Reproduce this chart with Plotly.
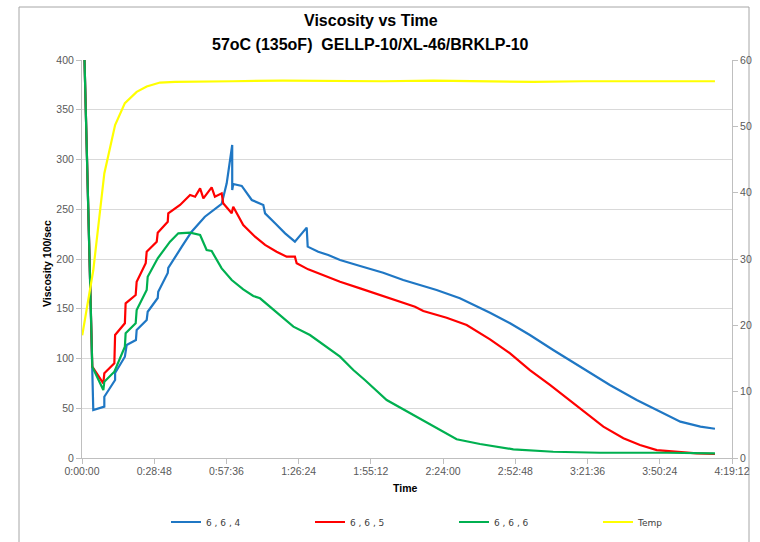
import plotly.graph_objects as go

# ---- data (time in minutes) ----
t_664 = [1.0, 4.5, 8.9, 8.9, 13.2, 13.2, 17.1, 17.8, 21.5, 21.8, 25.8, 26.2, 30.2, 30.4, 34.2, 34.4,
         39.8, 43.7, 49.0, 55.7, 57.7, 59.9, 59.9, 60.3, 63.7, 67.7, 72.3, 73.0, 77.0, 81.0, 84.9,
         89.6, 90.0, 94.2, 98.2, 102.9, 110.9, 120.1, 128.1, 141.4, 150.7, 162.7, 170.7, 178.6,
         187.9, 199.9, 210.5, 221.2, 230.5, 238.6, 246.6, 252.4]
v_664 = [400, 48.2, 51.6, 61.6, 78.4, 85.4, 101.8, 113.6, 118.6, 128.6, 138.7, 147, 160.8, 167.1, 185.9, 191,
         212.4, 227.4, 242.5, 255.3, 276, 314.6, 269.3, 275.4, 273.4, 259.3, 254.3, 245.9, 235.9, 225.8, 217.4,
         231.5, 212.4, 207.3, 204, 199, 193, 186.2, 178.9, 168.8, 160.5, 146, 135.4, 123.6,
         108.5, 90.1, 73.4, 58.3, 46.5, 36.5, 31.5, 29.4]

t_665 = [1.0, 4.1, 8.5, 8.9, 12.9, 13.2, 17.1, 17.4, 21.4, 21.8, 25.4, 25.8, 29.8, 30.2, 34.2, 34.4,
         39.1, 43.1, 45.1, 47.1, 48.4, 51.7, 53.0, 55.7, 56.3, 59.7, 60.3, 64.3, 69.0, 73.0, 77.6,
         81.6, 84.9, 85.6, 90.2, 94.2, 102.9, 110.9, 118.9, 128.1, 132.8, 136.1, 145.4, 153.4,
         162.7, 170.7, 178.6, 186.6, 193.3, 199.9, 207.9, 215.9, 222.5, 229.2, 237.1, 245.1, 252.4]
v_665 = [400, 91.8, 75.1, 85.1, 95.2, 123.6, 135.4, 155.5, 163.8, 177.2, 195.7, 207.3, 217.4, 226.4, 237.5, 245.9,
         254.3, 264.3, 262.6, 271, 261, 272, 262.6, 266, 256, 246, 252.6, 234.2, 222.4, 214.1, 207.3,
         202.3, 202.3, 195.7, 189.6, 185.6, 177.2, 170.5, 163.8, 155.5, 152.1, 147.7, 141, 133.7,
         119.3, 105.2, 88.4, 73.4, 60, 46.6, 31.5, 19.8, 13.1, 8, 6, 4.7, 4]

t_666 = [1.0, 4.1, 8.5, 8.9, 12.9, 17.1, 17.4, 21.4, 21.8, 25.8, 26.2, 30.2, 35.1, 38.4, 43.1, 47.1,
         49.7, 51.7, 55.7, 59.7, 64.3, 68.3, 71.0, 75.0, 79.6, 84.3, 90.9, 97.6, 102.9, 108.2, 112.8,
         121.5, 130.8, 140.1, 149.4, 158.7, 172.0, 187.9, 206.6, 233.2, 252.4]
v_666 = [400, 91.8, 68.3, 76.7, 86.7, 111.9, 125.3, 135.4, 148.7, 168.8, 182.2, 200.7, 217.4, 225.8, 226.4, 224.1,
         209, 208, 190.6, 178.9, 169.5, 162.8, 160.5, 152.1, 142, 132, 123.6, 111.9, 101.8, 88.4, 78.4,
         58.3, 44.9, 31.5, 18.8, 14.1, 8.7, 6.3, 5.3, 5.3, 4.7]

t_temp = [0.1, 4.5, 8.9, 13.2, 17.1, 21.8, 25.8, 31.1, 37.1, 49.0, 60, 80, 100, 120, 140, 160, 180,
          200, 220, 240, 252.4]
v_temp = [18.5, 28.3, 42.9, 50.2, 53.5, 55.2, 56.0, 56.6, 56.7, 56.8, 56.8, 56.9, 56.8, 56.8, 56.9,
          56.8, 56.7, 56.8, 56.8, 56.8, 56.8]

tick_vals = [0, 28.8, 57.6, 86.4, 115.2, 144.0, 172.8, 201.6, 230.4, 259.2]
tick_text = ["0:00:00", "0:28:48", "0:57:36", "1:26:24", "1:55:12", "2:24:00", "2:52:48",
             "3:21:36", "3:50:24", "4:19:12"]

series_names = ["6 , 6 , 4", "6 , 6 , 5", "6 , 6 , 6", "Temp"]
colors = ["#1f77c4", "#ff0000", "#00b050", "#ffff00"]

title_line1 = "Viscosity vs Time"
title_line2 = "57oC (135oF)\u00a0 GELLP-10/XL-46/BRKLP-10"

FONT = "Liberation Sans, Arial, sans-serif"

fig = go.Figure()
fig.add_trace(go.Scatter(x=t_664, y=v_664, mode="lines", name=series_names[0],
                         line=dict(color=colors[0], width=2.2)))
fig.add_trace(go.Scatter(x=t_665, y=v_665, mode="lines", name=series_names[1],
                         line=dict(color=colors[1], width=2.2)))
fig.add_trace(go.Scatter(x=t_666, y=v_666, mode="lines", name=series_names[2],
                         line=dict(color=colors[2], width=2.2)))
fig.add_trace(go.Scatter(x=t_temp, y=v_temp, mode="lines", name=series_names[3], yaxis="y2",
                         line=dict(color=colors[3], width=2.2)))

L, R, T, B = 82, 28, 60, 84
W, H = 760, 542
pw, ph = W - L - R, H - T - B

def px_x(x):
    return (x - L) / pw

def px_y(y):
    return (H - B - y) / ph

fig.update_layout(
    width=W, height=H,
    margin=dict(l=L, r=R, t=T, b=B, autoexpand=False),
    paper_bgcolor="white", plot_bgcolor="white",
    font=dict(family=FONT, size=10.5, color="#595959"),
    xaxis=dict(range=[0, 259.2], tickmode="array", tickvals=tick_vals, ticktext=tick_text,
               showgrid=False, zeroline=False, showline=True, linecolor="#bfbfbf", linewidth=1,
               ticks="outside", ticklen=5, tickcolor="#bfbfbf", tickfont=dict(size=10.5),
               ticklabelstandoff=-2),
    yaxis=dict(range=[0, 400], dtick=50, showgrid=True, gridcolor="#d9d9d9", gridwidth=1,
               zeroline=False, showline=True, linecolor="#bfbfbf", linewidth=1,
               ticks="outside", ticklen=5, tickcolor="#bfbfbf", tickfont=dict(size=10.5)),
    yaxis2=dict(range=[0, 60], dtick=10, overlaying="y", side="right", showgrid=False,
                zeroline=False, showline=True, linecolor="#bfbfbf", linewidth=1,
                ticks="outside", ticklen=5, tickcolor="#bfbfbf", tickfont=dict(size=10.5)),
    legend=dict(orientation="h", x=px_x(166), xanchor="left", y=px_y(522), yanchor="middle",
                entrywidth=99, entrywidthmode="pixels",
                font=dict(family="DejaVu Sans, sans-serif", size=9, color="#404040"),
                bgcolor="rgba(0,0,0,0)", itemwidth=30),
    showlegend=True,
)

fig.add_annotation(text="<b>" + title_line1 + "</b>", x=px_x(371), y=px_y(20), xref="paper", yref="paper",
                   showarrow=False, font=dict(family=FONT, size=16, color="black"),
                   xanchor="center", yanchor="middle")
fig.add_annotation(text="<b>" + title_line2 + "</b>", x=px_x(370), y=px_y(44), xref="paper", yref="paper",
                   showarrow=False, font=dict(family=FONT, size=16, color="black"),
                   xanchor="center", yanchor="middle")
fig.add_annotation(text="<b>Viscosity 100/sec</b>", x=px_x(47), y=px_y(264), xref="paper", yref="paper",
                   textangle=-90, showarrow=False, font=dict(family=FONT, size=10.5, color="black"),
                   xanchor="center", yanchor="middle")
fig.add_annotation(text="<b>Time</b>", x=px_x(405), y=px_y(488), xref="paper", yref="paper",
                   showarrow=False, font=dict(family=FONT, size=10.5, color="black"),
                   xanchor="center", yanchor="middle")

fig.add_shape(type="rect", xref="paper", yref="paper",
              x0=px_x(19), x1=px_x(749), y0=px_y(560), y1=px_y(7),
              line=dict(color="#a6a6a6", width=1), fillcolor="rgba(0,0,0,0)", layer="below")

fig.write_html("out.html", config={"displayModeBar": False},
               post_script="document.body.style.margin='0px';")
